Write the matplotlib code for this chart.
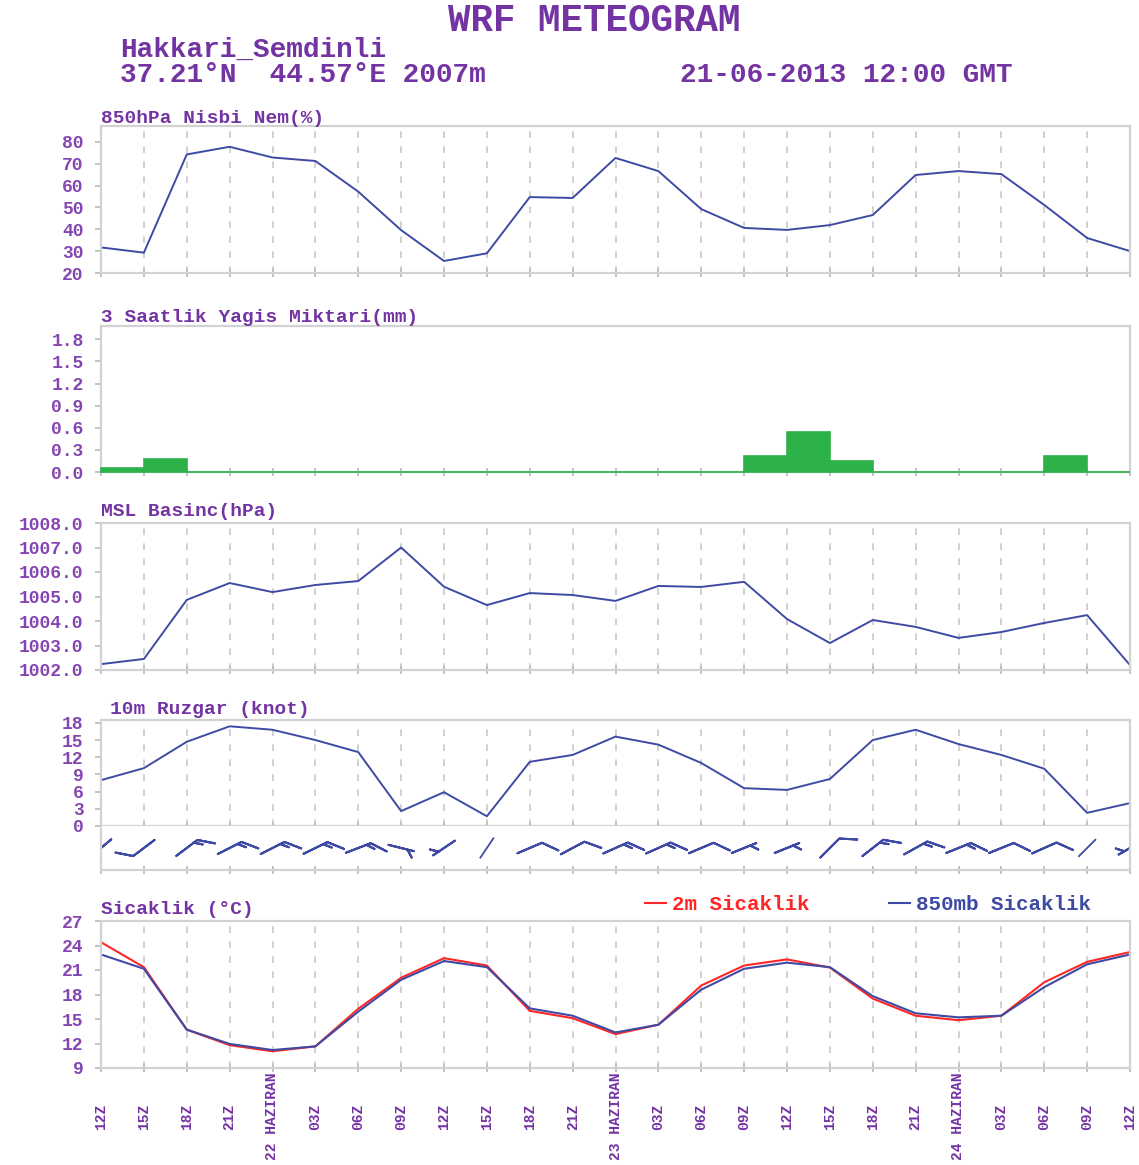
import numpy as np
import matplotlib
matplotlib.use('Agg')
import matplotlib.pyplot as plt
from matplotlib.ticker import FormatStrFormatter

# ---------------- data ----------------
time_labels = ['12Z', '15Z', '18Z', '21Z', '22 HAZIRAN', '03Z', '06Z', '09Z',
               '12Z', '15Z', '18Z', '21Z', '23 HAZIRAN', '03Z', '06Z', '09Z',
               '12Z', '15Z', '18Z', '21Z', '24 HAZIRAN', '03Z', '06Z', '09Z', '12Z']

rh850 = [31.7, 29.3, 74.2, 77.7, 72.8, 71.2, 57.2, 39.6, 25.5, 29.0, 54.7, 54.3,
         72.6, 66.6, 49.2, 40.6, 39.7, 41.9, 46.5, 64.8, 66.6, 65.2, 51.1, 36.0, 30.0]

precip3h = [0.05, 0.17, 0, 0, 0, 0, 0, 0, 0, 0, 0, 0, 0, 0, 0,
            0.22, 0.54, 0.15, 0, 0, 0, 0, 0.22, 0]

mslp = [1002.24, 1002.45, 1004.86, 1005.55, 1005.18, 1005.47, 1005.63, 1007.0,
        1005.4, 1004.65, 1005.14, 1005.06, 1004.82, 1005.43, 1005.39, 1005.6,
        1004.08, 1003.1, 1004.04, 1003.76, 1003.31, 1003.55, 1003.92, 1004.24, 1002.2]

wind_speed = [8.0, 10.1, 14.7, 17.4, 16.8, 15.0, 12.9, 2.6, 5.9, 1.7, 11.2, 12.4,
              15.6, 14.2, 11.0, 6.6, 6.3, 8.2, 15.0, 16.8, 14.3, 12.4, 10.0, 2.3, 4.0]

# direction the wind blows from (degrees, 0 = up/north, 90 = right/east)
wind_dir = [230, 233, 53, 63, 63, 64, 69, 104, 236, 214, 67, 62,
            66, 66, 67, 68, 68, 45, 52, 61, 68, 68, 66, 45, 240]

t2m = [24.4, 21.35, 13.7, 11.8, 11.05, 11.65, 16.25, 20.05, 22.45, 21.55, 16.0, 15.1,
       13.15, 14.3, 19.1, 21.55, 22.3, 21.3, 17.5, 15.4, 14.85, 15.4, 19.5, 22.0, 23.2]
t850 = [22.9, 21.15, 13.7, 11.95, 11.2, 11.65, 15.9, 19.8, 22.1, 21.35, 16.3, 15.4,
        13.35, 14.3, 18.6, 21.15, 21.9, 21.35, 17.8, 15.7, 15.2, 15.4, 18.9, 21.7, 22.9]

# ---------------- style ----------------
PURPLE = '#7433A3'
TICKPURPLE = '#8545B2'
BLUE = '#3E4AA3'
RED = '#FF2626'
GREEN = '#2DB24A'
FRAME = '#D2D2D2'
GRID = '#C8C8C8'
TICK = '#BEBEBE'

plt.rcParams['font.family'] = ['Liberation Mono', 'DejaVu Sans']
plt.rcParams['font.weight'] = 'bold'

W, H = 1139, 1165
L, R = 101, 1130
fig = plt.figure(figsize=(W / 100, H / 100), dpi=100)
fig.patch.set_facecolor('white')

x = np.arange(len(time_labels))


def add_ax(top, bottom):
    return fig.add_axes([L / W, 1 - bottom / H, (R - L) / W, (bottom - top) / H])


def style(ax, grid=True):
    for s in ax.spines.values():
        s.set_color(FRAME)
        s.set_linewidth(1.6)
    ax.set_xlim(0, 24)
    ax.set_xticks(x)
    ax.tick_params(axis='x', direction='inout', length=6, color=TICK, width=1.3,
                   labelbottom=False)
    ax.tick_params(axis='y', direction='out', length=4.5, color=TICK, width=1.3,
                   labelsize=13, labelcolor=TICKPURPLE, pad=8)
    if grid:
        ax.grid(axis='x', color=GRID, linestyle=(0, (4, 5)), linewidth=1.2)
    ax.set_axisbelow(True)


def title(ax, text, top_px, base_px, dx_px=0):
    ax.annotate(text, xy=(0, 1), xycoords='axes fraction',
                xytext=(dx_px * 0.72, (top_px - base_px) * 0.72),
                textcoords='offset points', ha='left', va='baseline',
                fontsize=14, color=PURPLE, fontweight='bold')


# header
fig.text(594 / W, 1 - 31 / H, 'WRF METEOGRAM', ha='center', va='baseline',
         fontsize=27, color=PURPLE, fontweight='bold')
fig.text(120 / W, 1 - 57 / H, 'Hakkari_Semdinli', ha='left', va='baseline',
         fontsize=20, color=PURPLE, fontweight='bold')
fig.text(120 / W, 1 - 82 / H, '37.21\u00b0N  44.57\u00b0E 2007m', ha='left',
         va='baseline', fontsize=20, color=PURPLE, fontweight='bold')
fig.text(680 / W, 1 - 82 / H, '21-06-2013 12:00 GMT', ha='left', va='baseline',
         fontsize=20, color=PURPLE, fontweight='bold')

# ---- panel 1: RH ----
ax1 = add_ax(126, 273)
style(ax1)
ax1.plot(x, rh850, color=BLUE, lw=1.4)
ax1.set_ylim(20, 87.2)
ax1.set_yticks(np.arange(20, 81, 10))
title(ax1, '850hPa Nisbi Nem(%)', 126, 123)

# ---- panel 2: precipitation ----
ax2 = add_ax(326, 472)
style(ax2, grid=False)
ax2.bar(np.arange(len(precip3h)), precip3h, width=1.0, align='edge', color=GREEN,
        edgecolor=GREEN, linewidth=1.2, zorder=3, clip_on=False)
ax2.set_ylim(0, 1.98)
ax2.set_yticks(np.arange(0, 1.81, 0.3))
ax2.yaxis.set_major_formatter(FormatStrFormatter('%.1f'))
title(ax2, '3 Saatlik Yagis Miktari(mm)', 326, 322)

# ---- panel 3: MSL pressure ----
ax3 = add_ax(523, 670)
style(ax3)
ax3.plot(x, mslp, color=BLUE, lw=1.4)
ax3.set_ylim(1002, 1008)
ax3.set_yticks(np.arange(1002, 1008.1, 1))
ax3.yaxis.set_major_formatter(FormatStrFormatter('%.1f'))
title(ax3, 'MSL Basinc(hPa)', 523, 516)

# ---- panel 4: wind speed ----
ax4 = add_ax(720, 826)
style(ax4)
ax4.plot(x, wind_speed, color=BLUE, lw=1.4)
ax4.set_ylim(0, 18.5)
ax4.set_yticks(np.arange(0, 19, 3))
title(ax4, '10m Ruzgar (knot)', 720, 714, dx_px=9)

# ---- wind barbs row ----
ax5 = add_ax(826, 870)
style(ax5, grid=False)
ax5.set_ylim(0, 1)
ax5.set_yticks([])
ax5.spines['top'].set_visible(False)
spd = np.array(wind_speed)
th = np.deg2rad(np.array(wind_dir, dtype=float))
u = -spd * np.sin(th)
v = -spd * np.cos(th)
has_feather = spd >= 2.5
ax5.barbs(x[has_feather], np.full(has_feather.sum(), 0.5), u[has_feather], v[has_feather],
          length=6.2, pivot='middle', rounding=True, color=BLUE, linewidth=1.5,
          sizes=dict(spacing=0.17, height=0.5, width=0.9))
calm = ~has_feather
ax5.quiver(x[calm], np.full(calm.sum(), 0.5), -np.sin(th[calm]), -np.cos(th[calm]),
           angles='uv', pivot='middle', units='dots', width=1.8,
           scale_units='dots', scale=1 / 25.0, headwidth=0, headlength=0,
           headaxislength=0, color=BLUE)

# ---- panel 5: temperature ----
ax6 = add_ax(921, 1068)
style(ax6)
ax6.plot(x, t2m, color=RED, lw=1.5, label='2m Sicaklik')
ax6.plot(x, t850, color=BLUE, lw=1.5, label='850mb Sicaklik')
ax6.set_ylim(9, 27)
ax6.set_yticks(np.arange(9, 28, 3))
title(ax6, 'Sicaklik (\u00b0C)', 921, 914)
leg = ax6.legend(loc='center right', bbox_to_anchor=(0.962, 1 + 16 / 147), ncol=2,
                 frameon=False, borderpad=0, borderaxespad=0, handlelength=1.0,
                 handletextpad=0.3, columnspacing=3.8,
                 prop=dict(family='Liberation Mono', weight='bold', size=15))
for txt, col in zip(leg.get_texts(), [RED, BLUE]):
    txt.set_color(col)

ax6.set_xticks(x, labels=time_labels, rotation=90, va='center', ha='center',
               fontsize=10.5, color=PURPLE, fontweight='bold')
ax6.tick_params(axis='x', labelbottom=True, pad=32)

fig.savefig('out.png', dpi=100, facecolor='white')
